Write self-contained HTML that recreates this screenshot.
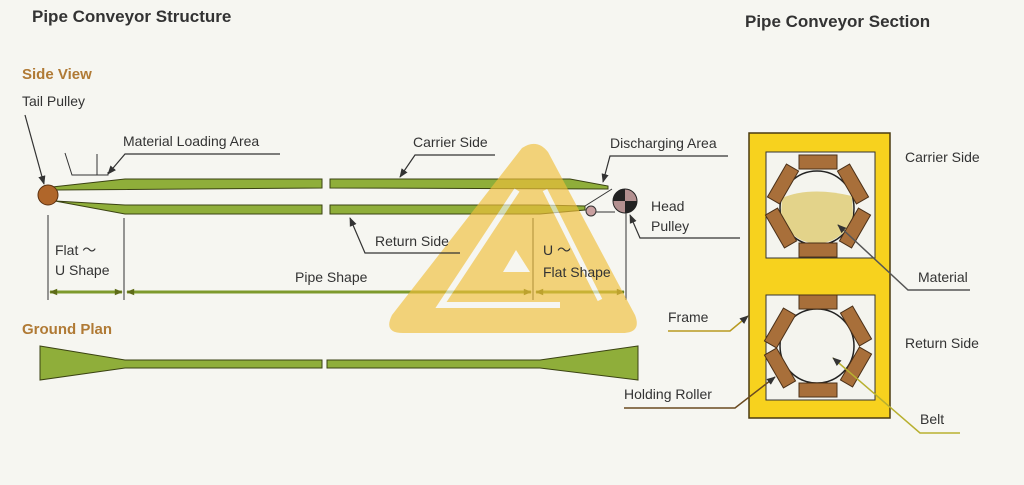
<!DOCTYPE html>
<html><head><meta charset="utf-8"><style>
body{margin:0;background:#f6f6f1;}
svg{display:block;font-family:"Liberation Sans",sans-serif;}
</style></head><body>
<svg width="1024" height="485" viewBox="0 0 1024 485">
<defs>
<marker id="a" viewBox="0 0 10 10" refX="9" refY="5" markerWidth="9" markerHeight="9" markerUnits="userSpaceOnUse" orient="auto-start-reverse"><path d="M0,1 L10,5 L0,9 z" fill="#333"/></marker>
<marker id="g" viewBox="0 0 10 10" refX="9" refY="5" markerWidth="10" markerHeight="8" markerUnits="userSpaceOnUse" orient="auto-start-reverse"><path d="M0,1 L10,5 L0,9 z" fill="#5e6c18"/></marker>
<g id="roll"><rect x="-19" y="-7" width="38" height="14" fill="#a86f3a" stroke="#4a3018" stroke-width="1"/></g>
</defs>
<rect width="1024" height="485" fill="#f6f6f1"/>
<g fill="#333" font-weight="bold">
<text x="32" y="22" font-size="17">Pipe Conveyor Structure</text>
<text x="745" y="27" font-size="17">Pipe Conveyor Section</text>
</g>
<text x="22" y="79" font-size="15" font-weight="bold" fill="#b07a35">Side View</text>
<text x="22" y="334" font-size="15" font-weight="bold" fill="#b07a35">Ground Plan</text>

<g stroke="#3a4212" stroke-width="1" fill="#8fae3a">
<path d="M52,187 L125,179 L322,179 L322,188 L55,190 Z"/>
<path d="M330,179 L570,179 L608,186 L608,189 L330,188 Z"/>
<path d="M55,201 L125,205 L322,205 L322,214 L125,214 Z"/>
<path d="M330,205 L540,205 L585,206 L585,210 L540,214 L330,214 Z"/>
</g>
<path d="M585,206 L612,189" stroke="#333" fill="none"/>
<path d="M595,212 L615,212" stroke="#333" fill="none"/>
<circle cx="591" cy="211" r="5" fill="#c9a0a0" stroke="#333"/>
<circle cx="48" cy="195" r="10" fill="#b0662a" stroke="#5a3010"/>
<circle cx="625" cy="201" r="12" fill="#b39090" stroke="#222"/>
<path d="M625,189 A12,12 0 0 0 613,201 L625,201Z M625,201 L637,201 A12,12 0 0 1 625,213Z" fill="#222"/>
<path d="M65,153 L72,175 L108,175 L108,172 M97,154 L97,175" stroke="#333" fill="none"/>

<g stroke="#333" stroke-width="1">
<line x1="48" y1="215" x2="48" y2="300"/><line x1="124" y1="218" x2="124" y2="300"/>
<line x1="533" y1="218" x2="533" y2="300"/><line x1="626" y1="213" x2="626" y2="300"/>
</g>
<g stroke="#7d9a2c" stroke-width="3">
<line x1="50" y1="292" x2="122" y2="292" marker-start="url(#g)" marker-end="url(#g)"/>
<line x1="127" y1="292" x2="531" y2="292" marker-start="url(#g)" marker-end="url(#g)"/>
<line x1="536" y1="292" x2="624" y2="292" marker-start="url(#g)" marker-end="url(#g)"/>
</g>

<g stroke="#3a4212" stroke-width="1" fill="#8fae3a">
<path d="M40,346 L125,360 L322,360 L322,368 L125,368 L40,380 Z"/>
<path d="M327,360 L540,360 L638,346 L638,380 L540,368 L327,368 Z"/>
</g>

<g opacity="0.65">
<path d="M522,148 Q537,138 548,152 L635,315 Q642,333 622,333 L403,333 Q383,333 392,315 Z" fill="#f0bf3a"/>
<path d="M517,190 L441,305 L560,305" stroke="#f6f6f1" stroke-width="6" fill="none"/>
<path d="M545,190 L600,300" stroke="#f6f6f1" stroke-width="5" fill="none"/>
<path d="M516,250 L530,272 L503,272 Z" fill="#f6f6f1"/>
</g>

<g font-size="14" fill="#333">
<text x="22" y="106">Tail Pulley</text>
<text x="123" y="146">Material Loading Area</text>
<text x="413" y="147">Carrier Side</text>
<text x="375" y="246">Return Side</text>
<text x="610" y="148">Discharging Area</text>
<text x="651" y="211">Head</text>
<text x="651" y="231">Pulley</text>
<text x="55" y="255">Flat ～</text>
<text x="55" y="275">U Shape</text>
<text x="295" y="282">Pipe Shape</text>
<text x="543" y="255">U ～</text>
<text x="543" y="277">Flat Shape</text>
</g>
<g stroke="#333" stroke-width="1.2" fill="none">
<line x1="25" y1="115" x2="44" y2="184" marker-end="url(#a)"/>
<path d="M280,154 L125,154 L108,174" marker-end="url(#a)"/>
<path d="M495,155 L415,155 L400,177" marker-end="url(#a)"/>
<path d="M460,253 L365,253 L350,218" marker-end="url(#a)"/>
<path d="M728,156 L610,156 L603,182" marker-end="url(#a)"/>
<path d="M740,238 L640,238 L630,215" marker-end="url(#a)"/>
</g>

<rect x="749" y="133" width="141" height="285" fill="#f7d21e" stroke="#4a3a10" stroke-width="1.5"/>
<rect x="766" y="152" width="109" height="106" fill="#f4f4ee" stroke="#333"/>
<rect x="766" y="295" width="109" height="105" fill="#f4f4ee" stroke="#333"/>
<circle cx="817" cy="208" r="37" fill="#f4f4ee" stroke="#222" stroke-width="1.5"/>
<path d="M782,198 Q810,186 852,196 L853,215 A37,37 0 0 1 781,215 Z" fill="#e3d38a" stroke="none"/>
<circle cx="817" cy="346" r="37" fill="#f4f4ee" stroke="#222" stroke-width="1.5"/>
<g>
<use href="#roll" transform="translate(818,162)"/>
<use href="#roll" transform="translate(818,250)"/>
<use href="#roll" transform="translate(783,184) rotate(-60)"/>
<use href="#roll" transform="translate(853,184) rotate(60)"/>
<use href="#roll" transform="translate(781,228) rotate(60)"/>
<use href="#roll" transform="translate(855,228) rotate(-60)"/>
<use href="#roll" transform="translate(818,302)"/>
<use href="#roll" transform="translate(818,390)"/>
<use href="#roll" transform="translate(780,328) rotate(-60)"/>
<use href="#roll" transform="translate(856,326) rotate(60)"/>
<use href="#roll" transform="translate(780,368) rotate(60)"/>
<use href="#roll" transform="translate(856,367) rotate(-60)"/>
</g>
<g font-size="14" fill="#333">
<text x="905" y="162">Carrier Side</text>
<text x="918" y="282">Material</text>
<text x="905" y="348">Return Side</text>
<text x="920" y="424">Belt</text>
<text x="668" y="322">Frame</text>
<text x="624" y="399">Holding Roller</text>
</g>
<g fill="none" stroke-width="1.5">
<path d="M970,290 L908,290 L838,225" stroke="#555" marker-end="url(#a)"/>
<path d="M960,433 L920,433 L833,358" stroke="#b8b030" marker-end="url(#a)"/>
<path d="M668,331 L730,331 L748,316" stroke="#b89a20" marker-end="url(#a)"/>
<path d="M624,408 L735,408 L775,377" stroke="#6a4a20" marker-end="url(#a)"/>
</g>
</svg>
</body></html>
